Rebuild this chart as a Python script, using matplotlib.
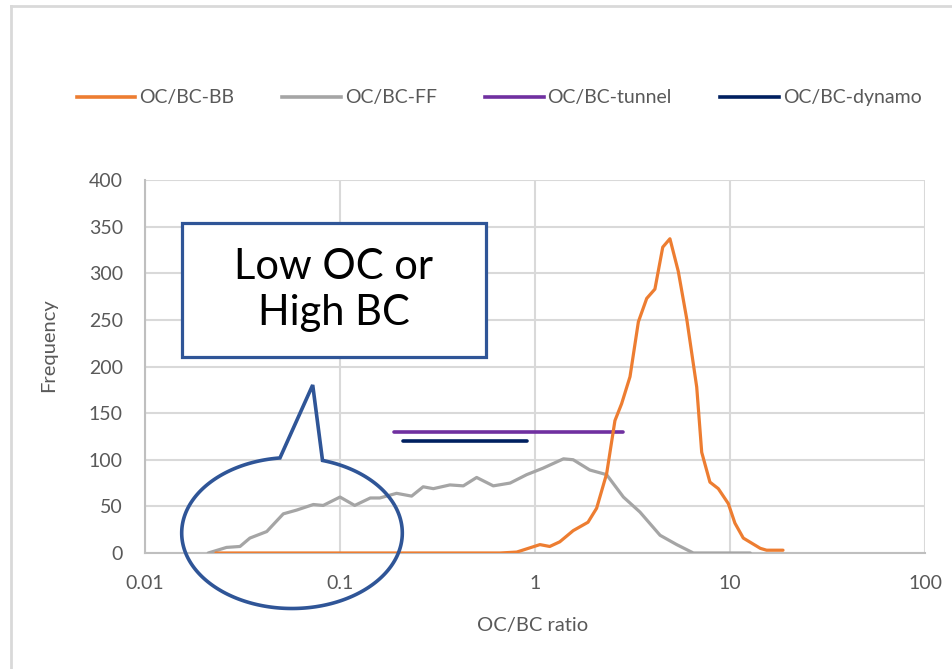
import numpy as np
import matplotlib
matplotlib.use("Agg")
import matplotlib.pyplot as plt
from matplotlib.patches import Rectangle, Polygon
from matplotlib.lines import Line2D

plt.rcParams['font.family'] = ['Lato', 'DejaVu Sans']

# ---- data ----
ff_ratio = [0.0211, 0.0262, 0.0307, 0.0345, 0.0421, 0.0512, 0.0599, 0.0730, 0.0820, 0.100,
            0.119, 0.143, 0.160, 0.195, 0.233, 0.267, 0.301, 0.366, 0.429, 0.502,
            0.611, 0.745, 0.906, 1.10, 1.40, 1.57, 1.91, 2.33, 2.84, 3.45,
            4.38, 5.33, 6.49, 12.7]
ff_freq = [0, 6, 7, 16, 23, 42, 46, 52, 51, 60,
           51, 59, 59, 64, 61, 71, 69, 73, 72, 81,
           72, 75, 84, 91, 101, 100, 89, 84, 60, 44,
           19, 9, 0, 0]

bb_ratio = [0.0231, 0.662, 0.806, 1.06, 1.19, 1.34, 1.57, 1.87, 2.07, 2.33,
            2.57, 2.78, 3.07, 3.39, 3.74, 4.12, 4.52, 4.92, 5.43, 6.00,
            6.75, 7.16, 7.89, 8.71, 9.80, 10.6, 11.7, 14.3, 15.4, 18.7]
bb_freq = [0, 0, 1, 9, 7, 12, 24, 33, 48, 85,
           142, 160, 189, 248, 273, 283, 328, 337, 302, 251,
           178, 108, 76, 69, 53, 32, 16, 5, 3, 3]

tunnel_ratio = [0.19, 2.82]
tunnel_freq = [130, 130]
dynamo_ratio = [0.21, 0.906]
dynamo_freq = [120, 120]

series_labels = ["OC/BC-BB", "OC/BC-FF", "OC/BC-tunnel", "OC/BC-dynamo"]
x_ticks = [0.01, 0.1, 1, 10, 100]
x_ticklabels = ["0.01", "0.1", "1", "10", "100"]
y_ticks = [0, 50, 100, 150, 200, 250, 300, 350, 400]
callout_text = "Low OC or\nHigh BC"

# ---- styling ----
C_BB = "#ED7D31"
C_FF = "#A5A5A5"
C_TUN = "#7030A0"
C_DYN = "#002060"
C_CALL = "#2F5597"
TXT = "#595959"

W, H = 953, 669
fig = plt.figure(figsize=(W / 100, H / 100), dpi=100)

def fx(px):
    return px / W

def fy(py):
    return 1 - py / H

ax = fig.add_axes([fx(145), fy(553), fx(925) - fx(145), fy(180) - fy(553)])
ax.set_xscale('log')
ax.set_xlim(0.01, 100)
ax.set_ylim(0, 400)

ax.plot(bb_ratio, bb_freq, color=C_BB, lw=2.3, solid_joinstyle='round', solid_capstyle='round', zorder=4)
ax.plot(ff_ratio, ff_freq, color=C_FF, lw=2.3, solid_joinstyle='round', solid_capstyle='round', zorder=3)
ax.plot(tunnel_ratio, tunnel_freq, color=C_TUN, lw=2.6, solid_capstyle='round', zorder=3)
ax.plot(dynamo_ratio, dynamo_freq, color=C_DYN, lw=2.6, solid_capstyle='round', zorder=3)

ax.set_xticks(x_ticks)
ax.set_xticklabels(x_ticklabels)
ax.xaxis.set_minor_locator(matplotlib.ticker.NullLocator())
ax.set_yticks(y_ticks)
ax.tick_params(axis='both', length=0, labelsize=14, labelcolor=TXT, pad=16)
ax.grid(True, color="#D9D9D9", lw=1.5)
ax.set_axisbelow(True)
for s in ['top', 'right']:
    ax.spines[s].set_visible(False)
for s in ['left', 'bottom']:
    ax.spines[s].set_color("#BFBFBF")
    ax.spines[s].set_linewidth(1.5)

ax.set_xlabel("OC/BC ratio", fontsize=14.5, color=TXT)
ax.set_ylabel("Frequency", fontsize=14.5, color=TXT)
ax.xaxis.set_label_coords(0.497, -0.172)
ax.yaxis.set_label_coords(-0.113, 0.558)

# legend
handles = [Line2D([], [], color=c, lw=2.6) for c in [C_BB, C_FF, C_TUN, C_DYN]]
fig.legend(handles, series_labels, loc='center', bbox_to_anchor=(fx(499), fy(98)),
           ncol=4, frameon=False, fontsize=14, labelcolor=TXT,
           handlelength=3.0, handletextpad=0.2, columnspacing=2.5)

# outer chart border
fig.add_artist(Line2D([fx(11), fx(11)], [fy(6), 0], color="#D9D9D9", lw=2))
fig.add_artist(Line2D([fx(11), 1], [fy(6), fy(6)], color="#D9D9D9", lw=2))

# callout rectangle
rect = Rectangle((fx(182), fy(357)), fx(486) - fx(182), fy(223) - fy(357),
                 transform=fig.transFigure, facecolor='white', edgecolor=C_CALL,
                 lw=2.3, zorder=10)
fig.add_artist(rect)
fig.text(fx(334), fy(290), callout_text, ha='center', va='center', fontsize=30,
         color='black', linespacing=1.25, zorder=11)

# speech-bubble ellipse with spike
cx, cy, a, b = 292, 533, 110.3, 75.5
t_right = np.arctan2(-(533 - 460) / b, (322.7 - cx) / a)
t_left = np.arctan2(-(533 - 458.3) / b, (280 - cx) / a) + 2 * np.pi
t = np.linspace(t_right, t_left, 300)
px = cx + a * np.cos(t)
py = cy + b * np.sin(t)
px = np.append(px, 312.7)
py = np.append(py, 385)
pts = np.column_stack([fx(px), fy(py)])
bubble = Polygon(pts, closed=True, transform=fig.transFigure, facecolor='none',
                 edgecolor=C_CALL, lw=2.6, joinstyle='miter', zorder=10)
fig.add_artist(bubble)

fig.savefig("out.png", dpi=100)
